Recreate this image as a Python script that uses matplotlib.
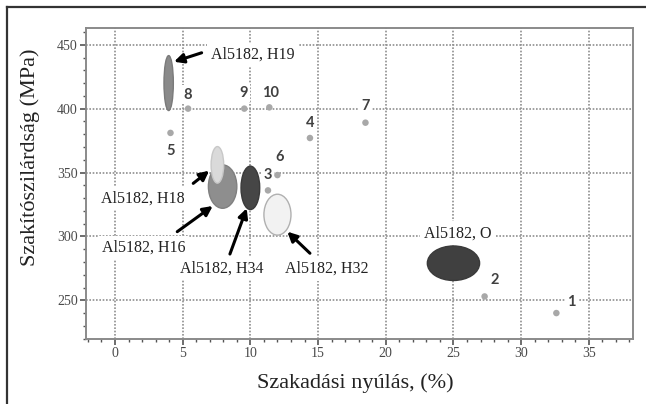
import matplotlib
matplotlib.use('Agg')
import matplotlib.pyplot as plt
from matplotlib.patches import Ellipse
from matplotlib.ticker import MultipleLocator

plt.rcParams['font.family'] = ['Liberation Serif', 'DejaVu Serif']

# mért pontok (szakadási nyúlás %, szakítószilárdság MPa)
pt_x = [32.6, 27.3, 11.3, 14.4, 4.1, 12.0, 18.5, 5.4, 9.55, 11.4]
pt_y = [240, 253, 336, 377, 381, 348, 389, 400, 400, 401]
pt_labels = ['1', '2', '3', '4', '5', '6', '7', '8', '9', '10']

# Al5182 állapotok tartományai
alloy_names = ['Al5182, H19', 'Al5182, H16', 'Al5182, H18',
               'Al5182, H34', 'Al5182, H32', 'Al5182, O']
alloy_x_min = [3.62, 6.90, 7.10, 9.31, 11.00, 23.07]
alloy_x_max = [4.31, 9.00, 8.03, 10.69, 13.00, 26.93]
alloy_y_min = [398.5, 322.0, 341.7, 321.0, 301.0, 265.5]
alloy_y_max = [441.5, 356.0, 370.3, 355.0, 333.0, 292.5]

# megjelenítés
alloy_fill = ['#8a8a8a', '#8e8e8e', '#dadada', '#464646', '#f2f2f2', '#404040']
alloy_edge = ['#7a7a7a', '#808080', '#c8c8c8', '#3a3a3a', '#b0b0b0', '#3a3a3a']
# címke közepe és nyíl kezdete/vége (adat koordinátában); None = nincs nyíl
label_xy = [(10.2, 441.9), (2.09, 291.2), (2.03, 329.8),
            (7.88, 275.0), (15.66, 274.5), (25.35, 302.4)]
arrow_tail = [(6.4, 443.7), (4.6, 303.7), (5.78, 341.5),
              (8.49, 286.2), (14.4, 286.8), None]
arrow_head = [(4.36, 436.7), (7.22, 323.8), (6.96, 351.4),
              (9.73, 322.0), (12.73, 303.7), None]
num_offsets = [(15, 11), (10, 16), (0, 15), (0, 15), (0, -18),
               (2, 18), (0, 17), (0, 14), (-1, 16), (1, 14)]

fig = plt.figure(figsize=(6.46, 4.04), dpi=100)
ax = fig.add_axes([86 / 646, 1 - 339 / 404, 547 / 646, 311 / 404])

ax.set_xlim(-2.14, 38.26)
ax.set_ylim(219.7, 463.1)
ax.xaxis.set_major_locator(MultipleLocator(5))
ax.xaxis.set_minor_locator(MultipleLocator(1))
ax.yaxis.set_major_locator(MultipleLocator(50))
ax.yaxis.set_minor_locator(MultipleLocator(10))
ax.set_yticks([250, 300, 350, 400, 450])

ax.set_axisbelow(True)
ax.grid(True, which='major', color='#8f8f8f', linestyle=(0, (1, 1)), linewidth=1.2)
for s in ax.spines.values():
    s.set_color('#8a8a8a')
    s.set_linewidth(1.4)
ax.tick_params(which='both', direction='out', colors='#555555', labelcolor='#4a4a4a',
               labelsize=10, pad=2)
ax.tick_params(which='major', length=4, width=1.2)
ax.tick_params(which='minor', length=2.5, width=1)

for i in range(len(alloy_names)):
    cx = (alloy_x_min[i] + alloy_x_max[i]) / 2
    cy = (alloy_y_min[i] + alloy_y_max[i]) / 2
    e = Ellipse((cx, cy), alloy_x_max[i] - alloy_x_min[i], alloy_y_max[i] - alloy_y_min[i],
                facecolor=alloy_fill[i], edgecolor=alloy_edge[i], linewidth=1, zorder=3)
    ax.add_patch(e)
    ax.text(label_xy[i][0], label_xy[i][1], alloy_names[i], fontsize=11.5, color='#222222',
            ha='center', va='center', zorder=2.5,
            bbox=dict(boxstyle='square,pad=0.25', fc='white', ec='none'))
    if arrow_tail[i] is not None:
        ax.annotate('', xy=arrow_head[i], xytext=arrow_tail[i], zorder=5,
                    arrowprops=dict(arrowstyle='-|>', color='black', lw=2.2,
                                    mutation_scale=14, shrinkA=0, shrinkB=0))

ax.scatter(pt_x, pt_y, s=22, color='#a8a8a8', edgecolors='none', zorder=4)
for x, y, lab, off in zip(pt_x, pt_y, pt_labels, num_offsets):
    ax.annotate(lab, (x, y), xytext=off, textcoords='offset pixels',
                ha='center', va='center', fontsize=10.5, color='#404040',
                family=['Lato', 'DejaVu Sans'], fontweight='bold', zorder=2.5,
                bbox=dict(boxstyle='square,pad=0.15', fc='white', ec='none'))

fig.text(355.7 / 646, 1 - 383 / 404, 'Szakadási nyúlás, (%)', fontsize=16,
         ha='center', va='center', color='#222222')
fig.text(30 / 646, 1 - 157.4 / 404, 'Szakítószilárdság (MPa)', fontsize=16,
         rotation=90, ha='center', va='center', color='#222222')

# külső keret
fig.add_artist(plt.Line2D([7 / 646, 1.0], [1 - 7 / 404, 1 - 7 / 404],
                          transform=fig.transFigure, color='#333333', lw=1.6))
fig.add_artist(plt.Line2D([7 / 646, 7 / 646], [1 - 7 / 404, 0.0],
                          transform=fig.transFigure, color='#333333', lw=1.6))

fig.savefig('out.png', dpi=100, facecolor='white')
